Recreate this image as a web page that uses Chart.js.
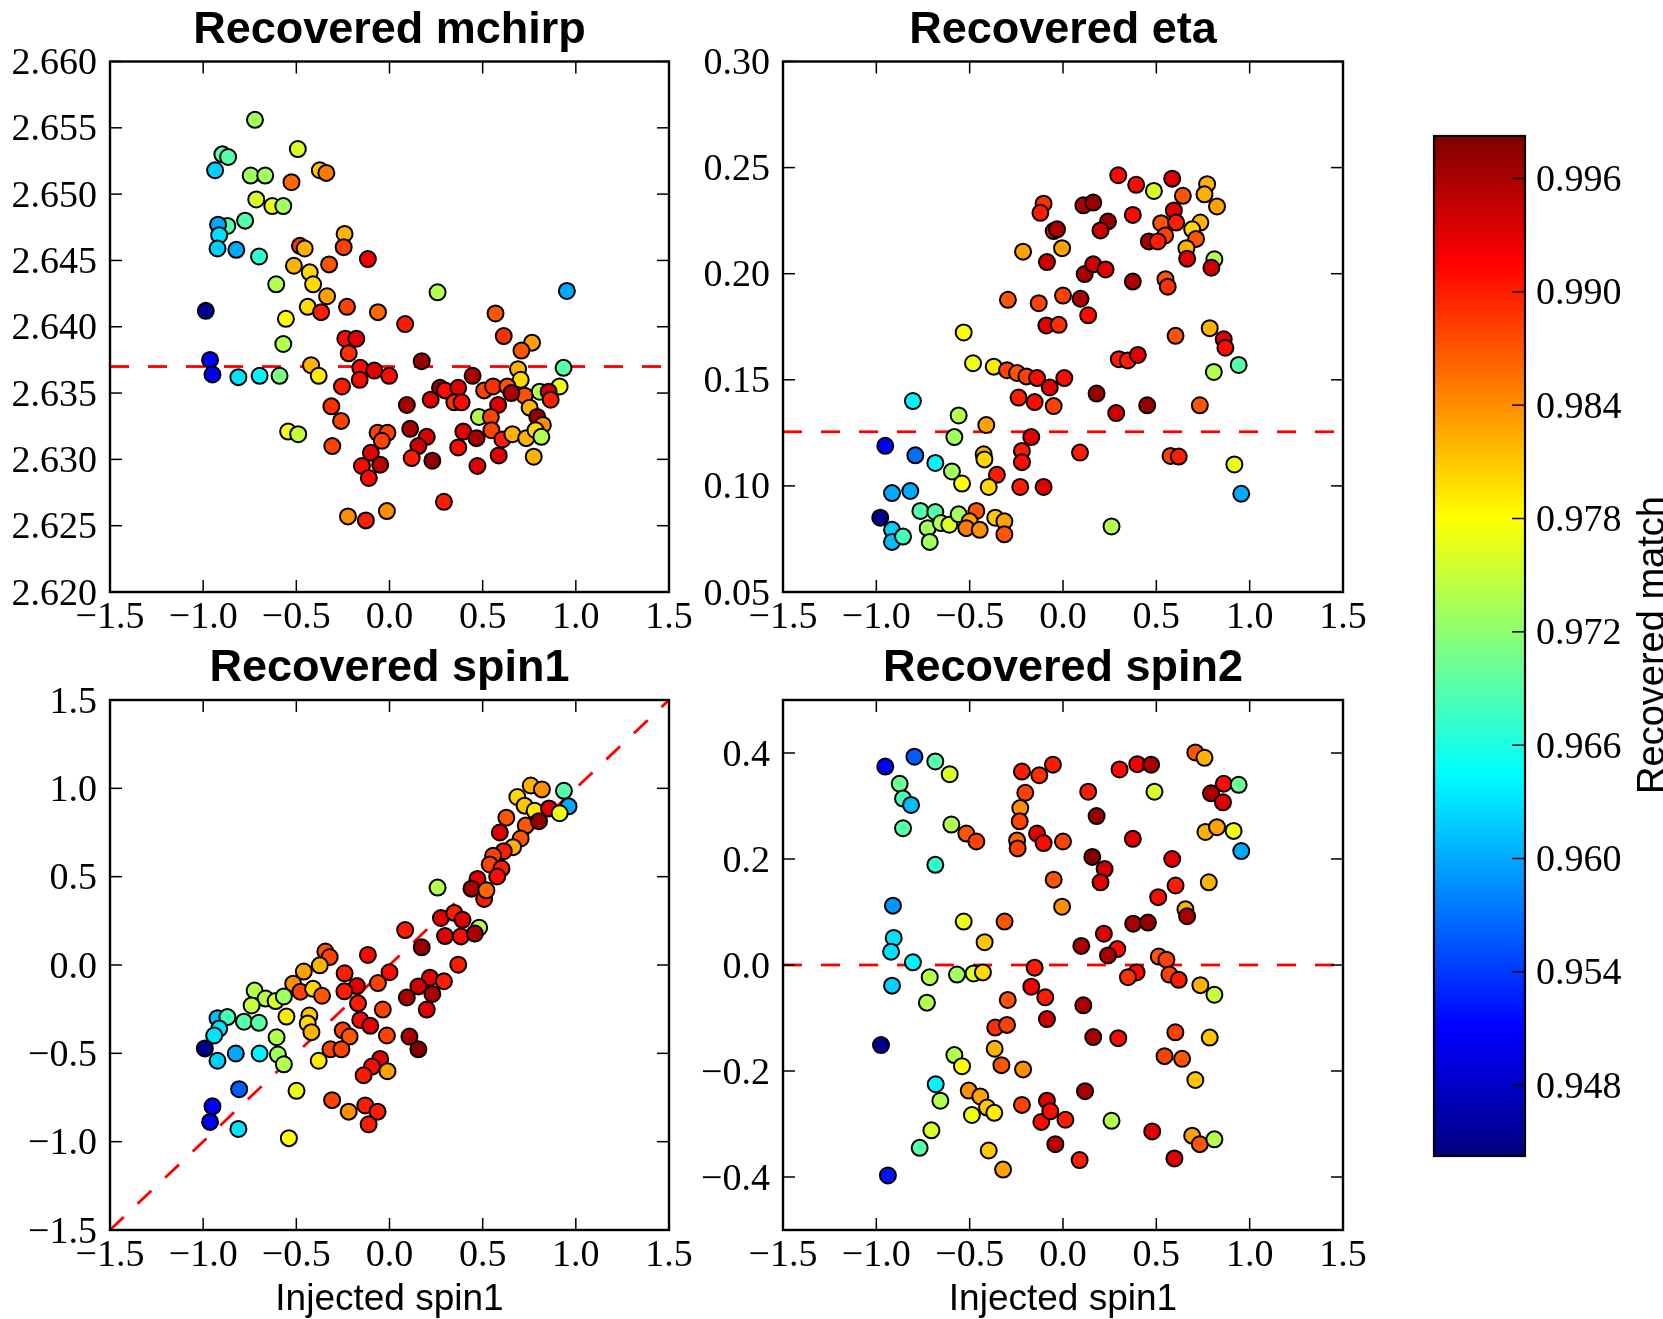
<!DOCTYPE html>
<html>
<head>
<meta charset="utf-8">
<script src="https://cdn.jsdelivr.net/npm/chart.js@4.4.0/dist/chart.umd.min.js"></script>
<style>
  html, body { margin: 0; padding: 0; background: #fff; }
  #wrap { position: relative; width: 1663px; height: 1319px; overflow: hidden; }
  #wrap canvas { position: absolute; left: 0; top: 0; }
</style>
</head>
<body>
<div id="wrap">
  <canvas id="cMchirp" width="1663" height="1319"></canvas>
  <canvas id="cEta" width="1663" height="1319"></canvas>
  <canvas id="cSpin1" width="1663" height="1319"></canvas>
  <canvas id="cSpin2" width="1663" height="1319"></canvas>
  <canvas id="cBar" width="1663" height="1319"></canvas>
</div>
<script>
// ---- data (x = injected spin1, value = recovered param, match = colour) ----
const mchirpSpin1 = [-0.722,-0.897,-0.866,-0.936,-0.492,-0.745,-0.667,-0.526,-0.374,-0.339,-0.715,-0.629,-0.570,-0.775,-0.870,-0.920,-0.914,-0.923,-0.822,-0.700,-0.481,-0.455,-0.241,-0.246,-0.116,-0.513,-0.428,-0.410,-0.324,-0.608,-0.335,-0.986,-0.556,-0.439,-0.367,-0.228,-0.062,-0.570,-0.237,-0.178,-0.219,-0.963,-0.950,-0.811,-0.697,-0.590,-0.421,-0.380,-0.157,-0.082,-0.002,-0.160,-0.255,-0.312,-0.260,-0.544,-0.490,-0.307,-0.064,-0.011,-0.041,-0.100,-0.050,-0.148,-0.111,-0.223,-0.127,-0.014,
  0.258,0.952,0.084,0.569,0.613,0.765,0.708,0.173,0.934,0.446,0.690,0.704,0.271,0.298,0.369,0.508,0.556,0.633,0.806,0.913,0.854,0.865,0.725,0.654,0.221,0.348,0.387,0.583,0.093,0.752,0.480,0.544,0.793,0.823,0.547,0.111,0.200,0.155,0.119,0.230,0.396,0.369,0.467,0.606,0.660,0.734,0.784,0.815,0.472,0.586,0.774,0.292];
const mchirpValue = [2.6556,2.6530,2.6528,2.6518,2.6534,2.6514,2.6514,2.6509,2.6518,2.6516,2.6496,2.6491,2.6491,2.6480,2.6476,2.6477,2.6469,2.6459,2.6458,2.6453,2.6461,2.6459,2.6470,2.6460,2.6451,2.6446,2.6441,2.6432,2.6447,2.6432,2.6423,2.6412,2.6406,2.6415,2.6411,2.6415,2.6411,2.6387,2.6391,2.6391,2.6380,2.6375,2.6364,2.6362,2.6363,2.6363,2.6371,2.6363,2.6369,2.6367,2.6363,2.6360,2.6355,2.6340,2.6329,2.6321,2.6319,2.6310,2.6320,2.6320,2.6314,2.6305,2.6296,2.6295,2.6286,2.6257,2.6254,2.6261,
  2.6426,2.6427,2.6402,2.6410,2.6393,2.6388,2.6382,2.6374,2.6369,2.6363,2.6368,2.6360,2.6354,2.6352,2.6354,2.6352,2.6355,2.6355,2.6351,2.6355,2.6351,2.6345,2.6348,2.6350,2.6345,2.6343,2.6343,2.6341,2.6341,2.6339,2.6332,2.6332,2.6332,2.6326,2.6322,2.6323,2.6317,2.6310,2.6301,2.6299,2.6321,2.6309,2.6316,2.6315,2.6319,2.6316,2.6322,2.6317,2.6295,2.6303,2.6302,2.6268];
const mchirpMatch = [0.973,0.969,0.969,0.962,0.976,0.973,0.973,0.986,0.981,0.985,0.976,0.977,0.973,0.969,0.969,0.960,0.963,0.962,0.960,0.967,0.989,0.982,0.982,0.988,0.992,0.982,0.980,0.980,0.987,0.974,0.983,0.945,0.978,0.980,0.990,0.988,0.986,0.974,0.991,0.993,0.989,0.951,0.951,0.963,0.964,0.971,0.982,0.979,0.991,0.993,0.991,0.991,0.990,0.989,0.988,0.977,0.975,0.988,0.988,0.988,0.988,0.993,0.995,0.991,0.991,0.984,0.990,0.984,
  0.974,0.960,0.990,0.987,0.989,0.983,0.987,0.997,0.969,0.996,0.982,0.980,0.997,0.991,0.993,0.988,0.989,0.987,0.974,0.977,0.994,0.990,0.987,0.996,0.993,0.989,0.991,0.993,0.996,0.982,0.974,0.988,0.997,0.984,0.988,0.996,0.993,0.994,0.990,0.997,0.993,0.991,0.996,0.990,0.982,0.982,0.980,0.974,0.993,0.993,0.982,0.990];

const etaSpin1 = [-0.104,-0.121,-0.050,-0.032,-0.214,-0.005,-0.086,-0.295,-0.130,0.000,-0.089,-0.023,-0.532,-0.482,-0.371,-0.300,-0.246,-0.196,-0.139,-0.071,0.007,-0.804,-0.238,-0.152,-0.050,-0.559,-0.411,-0.582,-0.170,-0.952,-0.791,-0.220,-0.220,-0.425,-0.421,-0.684,-0.595,-0.541,-0.354,-0.398,-0.229,-0.104,-0.916,-0.818,-0.979,-0.916,-0.916,-0.857,-0.764,-0.684,-0.725,-0.714,-0.654,-0.609,-0.559,-0.464,-0.500,-0.518,-0.446,-0.363,-0.314,-0.314,
  0.296,0.392,0.487,0.585,0.642,0.772,0.758,0.825,0.109,0.162,0.374,0.594,0.241,0.201,0.526,0.606,0.547,0.460,0.508,0.736,0.692,0.713,0.661,0.665,0.811,0.795,0.116,0.162,0.228,0.374,0.549,0.561,0.094,0.135,0.786,0.603,0.861,0.870,0.299,0.347,0.401,0.808,0.941,0.180,0.285,0.451,0.733,0.091,0.576,0.620,0.918,0.955,0.260];
const etaValue = [0.2330,0.2287,0.2201,0.2209,0.2104,0.2120,0.2055,0.1877,0.1861,0.1897,0.1756,0.1759,0.1723,0.1578,0.1562,0.1545,0.1532,0.1516,0.1508,0.1464,0.1508,0.1400,0.1416,0.1395,0.1376,0.1332,0.1287,0.1230,0.1230,0.1189,0.1144,0.1165,0.1112,0.1149,0.1125,0.1108,0.1068,0.1011,0.1052,0.0995,0.0995,0.0995,0.0966,0.0976,0.0850,0.0793,0.0736,0.0761,0.0882,0.0877,0.0801,0.0736,0.0825,0.0817,0.0866,0.0882,0.0833,0.0801,0.0793,0.0850,0.0833,0.0772,
  0.2464,0.2419,0.2390,0.2448,0.2367,0.2422,0.2374,0.2317,0.2322,0.2335,0.2277,0.2298,0.2246,0.2204,0.2238,0.2241,0.2180,0.2152,0.2152,0.2241,0.2209,0.2164,0.2120,0.2071,0.2068,0.2028,0.1998,0.2044,0.2020,0.1963,0.1974,0.1939,0.1882,0.1804,0.1743,0.1707,0.1691,0.1651,0.1597,0.1591,0.1617,0.1537,0.1570,0.1435,0.1343,0.1380,0.1380,0.1157,0.1141,0.1138,0.1101,0.0963,0.0809];
const etaMatch = [0.989,0.990,0.991,0.996,0.983,0.983,0.994,0.987,0.988,0.988,0.993,0.989,0.978,0.977,0.979,0.988,0.987,0.988,0.991,0.993,0.991,0.964,0.990,0.991,0.988,0.974,0.983,0.973,0.993,0.951,0.957,0.990,0.991,0.982,0.980,0.964,0.973,0.978,0.990,0.980,0.990,0.993,0.960,0.960,0.945,0.962,0.961,0.968,0.969,0.969,0.973,0.973,0.974,0.976,0.973,0.987,0.983,0.985,0.984,0.981,0.983,0.987,
  0.991,0.991,0.976,0.993,0.987,0.982,0.982,0.983,0.996,0.997,0.991,0.993,0.997,0.994,0.987,0.990,0.988,0.996,0.990,0.982,0.980,0.987,0.982,0.993,0.974,0.994,0.996,0.994,0.993,0.996,0.987,0.989,0.996,0.991,0.982,0.987,0.993,0.991,0.990,0.990,0.993,0.974,0.969,0.997,0.994,0.997,0.987,0.990,0.988,0.990,0.977,0.960,0.974];

const spin1Spin1 = [-0.344,-0.321,-0.116,-0.374,-0.460,-0.517,-0.241,0.000,-0.062,-0.175,-0.242,-0.478,-0.410,-0.362,-0.724,-0.665,-0.611,-0.567,-0.740,-0.169,-0.036,-0.923,-0.870,-0.781,-0.701,-0.553,-0.430,-0.439,-0.419,-0.157,-0.103,-0.914,-0.941,-0.991,-0.923,-0.825,-0.697,-0.606,-0.599,-0.567,-0.380,-0.251,-0.214,-0.317,-0.258,-0.014,-0.050,-0.094,-0.139,-0.011,-0.807,-0.499,-0.950,-0.963,-0.811,-0.540,-0.308,-0.219,-0.130,-0.064,-0.112,
  0.758,0.818,0.936,0.686,0.725,0.779,0.856,0.961,0.913,0.627,0.731,0.592,0.704,0.663,0.613,0.556,0.538,0.601,0.578,0.472,0.440,0.508,0.520,0.258,0.276,0.348,0.392,0.481,0.298,0.383,0.458,0.084,0.173,0.369,0.217,0.292,0.155,0.093,0.230,0.200,0.107,0.155,0.802];
const spin1Value = [0.076,0.045,0.057,-0.002,-0.037,-0.106,-0.047,-0.041,-0.102,-0.119,-0.149,-0.151,-0.135,-0.174,-0.145,-0.190,-0.204,-0.178,-0.229,-0.217,-0.252,-0.301,-0.295,-0.321,-0.327,-0.292,-0.286,-0.331,-0.380,-0.311,-0.344,-0.360,-0.399,-0.472,-0.542,-0.501,-0.501,-0.409,-0.507,-0.562,-0.542,-0.370,-0.405,-0.477,-0.477,-0.399,-0.532,-0.575,-0.624,-0.601,-0.703,-0.712,-0.800,-0.888,-0.928,-0.980,-0.765,-0.830,-0.795,-0.830,-0.902,
  1.016,0.994,0.986,0.951,0.902,0.873,0.886,0.898,0.859,0.834,0.789,0.750,0.716,0.667,0.644,0.618,0.569,0.546,0.501,0.487,0.432,0.374,0.423,0.438,0.266,0.295,0.256,0.211,0.164,0.162,0.178,0.198,0.100,0.002,-0.072,-0.092,-0.121,-0.184,-0.164,-0.252,-0.405,-0.477,0.814];
const spin1Match = [0.987,0.988,0.991,0.982,0.983,0.984,0.990,0.991,0.988,0.993,0.990,0.988,0.980,0.987,0.974,0.974,0.976,0.973,0.975,0.990,0.988,0.961,0.968,0.969,0.969,0.979,0.981,0.980,0.982,0.991,0.993,0.963,0.963,0.945,0.962,0.960,0.964,0.974,0.973,0.974,0.979,0.988,0.987,0.988,0.988,0.988,0.993,0.991,0.990,0.983,0.956,0.977,0.951,0.951,0.963,0.978,0.988,0.984,0.990,0.990,0.990,
  0.982,0.984,0.969,0.980,0.981,0.979,0.993,0.960,0.977,0.987,0.987,0.993,0.987,0.982,0.990,0.988,0.988,0.990,0.991,0.993,0.996,0.990,0.986,0.974,0.993,0.990,0.993,0.974,0.993,0.991,0.996,0.990,0.997,0.990,0.993,0.990,0.994,0.996,0.996,0.993,0.996,0.998,0.997];

const spin2Spin1 = [-0.952,-0.796,-0.684,-0.607,-0.875,-0.857,-0.814,-0.857,-0.598,-0.518,-0.464,-0.684,-0.220,-0.127,-0.054,-0.202,-0.229,-0.232,-0.246,-0.243,-0.139,-0.104,0.000,-0.050,-0.005,-0.911,-0.907,-0.921,-0.804,-0.916,-0.714,-0.729,-0.532,-0.420,-0.313,-0.568,-0.479,-0.429,-0.152,-0.170,-0.095,-0.086,-0.296,-0.363,-0.300,-0.975,-0.366,-0.330,-0.214,-0.582,-0.541,-0.682,-0.657,-0.505,-0.443,-0.488,-0.407,-0.368,-0.220,-0.086,-0.116,-0.068,0.013,-0.041,-0.705,-0.768,-0.398,-0.321,-0.938,
  0.303,0.398,0.472,0.709,0.758,0.135,0.490,0.861,0.941,0.793,0.857,0.180,0.374,0.763,0.825,0.914,0.955,0.157,0.223,0.201,0.585,0.603,0.781,0.510,0.656,0.665,0.376,0.455,0.219,0.098,0.291,0.241,0.513,0.554,0.394,0.348,0.570,0.620,0.736,0.811,0.109,0.162,0.296,0.602,0.786,0.544,0.638,0.709,0.118,0.260,0.478,0.089,0.597,0.692,0.733,0.811];
const spin2Value = [0.3745,0.393,0.384,0.360,0.342,0.314,0.302,0.258,0.265,0.248,0.233,0.189,0.365,0.358,0.378,0.325,0.296,0.271,0.235,0.220,0.248,0.230,0.233,0.161,0.110,0.112,0.051,0.025,0.005,-0.039,-0.023,-0.071,0.082,0.043,0.082,-0.018,-0.016,-0.014,-0.005,-0.041,-0.061,-0.102,-0.066,-0.118,-0.113,-0.151,-0.158,-0.189,-0.197,-0.170,-0.191,-0.225,-0.256,-0.237,-0.248,-0.283,-0.269,-0.279,-0.264,-0.256,-0.296,-0.276,-0.292,-0.338,-0.312,-0.345,-0.350,-0.386,-0.397,
  0.369,0.379,0.378,0.401,0.391,0.327,0.327,0.342,0.340,0.324,0.307,0.281,0.238,0.251,0.260,0.253,0.215,0.204,0.181,0.156,0.200,0.150,0.156,0.128,0.105,0.092,0.078,0.080,0.059,0.036,0.030,0.018,0.016,0.010,-0.014,-0.023,-0.018,-0.028,-0.038,-0.056,-0.076,-0.136,-0.138,-0.127,-0.137,-0.172,-0.177,-0.217,-0.238,-0.294,-0.314,-0.368,-0.365,-0.322,-0.338,-0.329];
const spin2Match = [0.951,0.956,0.969,0.976,0.970,0.968,0.961,0.969,0.974,0.987,0.988,0.967,0.990,0.989,0.990,0.988,0.984,0.988,0.986,0.988,0.993,0.991,0.988,0.987,0.984,0.959,0.963,0.963,0.964,0.962,0.974,0.974,0.977,0.981,0.987,0.973,0.976,0.980,0.990,0.992,0.990,0.994,0.987,0.989,0.988,0.945,0.982,0.987,0.984,0.974,0.978,0.964,0.974,0.984,0.983,0.977,0.981,0.979,0.988,0.993,0.991,0.991,0.990,0.995,0.976,0.969,0.981,0.983,0.952,
  0.991,0.992,0.996,0.987,0.982,0.990,0.976,0.991,0.970,0.996,0.993,0.997,0.993,0.982,0.983,0.977,0.960,0.998,0.994,0.993,0.993,0.990,0.982,0.991,0.982,0.996,0.996,0.997,0.993,0.996,0.991,0.996,0.987,0.988,0.991,0.989,0.988,0.990,0.982,0.975,0.996,0.996,0.991,0.988,0.981,0.988,0.987,0.981,0.996,0.974,0.993,0.990,0.993,0.983,0.987,0.974];

// injected values drawn as dashed reference lines
const mchirpInjected = 2.637;
const etaInjected = 0.1255;
const spin2Injected = 0.0;
const spin1Diagonal = [-1.5, 1.5];

// tick labels
const xTicks = [-1.5, -1.0, -0.5, 0.0, 0.5, 1.0, 1.5];
const mchirpTicks = [2.620, 2.625, 2.630, 2.635, 2.640, 2.645, 2.650, 2.655, 2.660];
const etaTicks = [0.05, 0.10, 0.15, 0.20, 0.25, 0.30];
const spin1Ticks = [-1.5, -1.0, -0.5, 0.0, 0.5, 1.0, 1.5];
const spin2Ticks = [-0.4, -0.2, 0.0, 0.2, 0.4];
const matchTicks = [0.948, 0.954, 0.960, 0.966, 0.972, 0.978, 0.984, 0.990, 0.996];
const matchMin = 0.94425, matchMax = 0.99825;

// ---- helpers ----
const W = 1663, H = 1319;
const YAXIS_W = 100, XAXIS_H = 50;
const SERIF = '38px "Liberation Serif", "DejaVu Serif", serif';
const SANS = '"Liberation Sans", Arial, sans-serif';

function jet(v) {
  const t = Math.min(1, Math.max(0, (v - matchMin) / (matchMax - matchMin)));
  const c = k => Math.round(255 * Math.min(1, Math.max(0, 1.5 - Math.abs(4 * t - k))));
  return 'rgb(' + c(3) + ',' + c(2) + ',' + c(1) + ')';
}
function fmt(v, dec) {
  const s = Math.abs(v).toFixed(dec);
  return (v < -1e-9 ? '\u2212' : '') + s;
}
function seg(ctx, x1, y1, x2, y2) {
  ctx.beginPath(); ctx.moveTo(x1, y1); ctx.lineTo(x2, y2); ctx.stroke();
}

// frame, inward ticks, tick labels and titles, in matplotlib classic style
const axesDecor = {
  id: 'axesDecor',
  afterDraw(chart, args, o) {
    const { ctx, chartArea: a, scales } = chart;
    const sx = scales.x, sy = scales.y;
    ctx.save();
    ctx.strokeStyle = '#000';
    ctx.lineWidth = 1.5;
    sx.ticks.forEach(t => {
      const px = sx.getPixelForValue(t.value);
      seg(ctx, px, a.bottom, px, a.bottom - 12);
      seg(ctx, px, a.top, px, a.top + 12);
    });
    sy.ticks.forEach(t => {
      const py = sy.getPixelForValue(t.value);
      seg(ctx, a.left, py, a.left + 12, py);
      seg(ctx, a.right, py, a.right - 12, py);
    });
    ctx.lineWidth = 2.4;
    ctx.strokeRect(a.left, a.top, a.right - a.left, a.bottom - a.top);

    ctx.fillStyle = '#000';
    ctx.font = SERIF;
    ctx.textBaseline = 'alphabetic';
    ctx.textAlign = 'center';
    sx.ticks.forEach(t => {
      ctx.fillText(fmt(t.value, 1), sx.getPixelForValue(t.value), a.bottom + 36);
    });
    ctx.textAlign = 'right';
    sy.ticks.forEach(t => {
      ctx.fillText(fmt(t.value, o.yDec), a.left - 13, sy.getPixelForValue(t.value) + 12.5);
    });

    ctx.font = 'bold 45px ' + SANS;
    ctx.textAlign = 'center';
    ctx.fillText(o.title, (a.left + a.right) / 2, a.top - 19);
    if (o.xLabel) {
      ctx.font = '37px ' + SANS;
      ctx.fillText(o.xLabel, (a.left + a.right) / 2, a.bottom + 80);
    }
    ctx.restore();
  }
};

function makePanel(id, area, xs, ys, ms, ref, yMin, yMax, yTicks, yDec, title, xLabel) {
  const pts = xs.map((x, i) => ({ x: x, y: ys[i] }));
  new Chart(document.getElementById(id), {
    type: 'scatter',
    data: {
      datasets: [
        {
          data: pts,
          backgroundColor: ms.map(jet),
          borderColor: '#000',
          borderWidth: 2,
          pointRadius: 8,
          order: 1
        },
        {
          data: ref,
          showLine: true,
          borderColor: '#ff0000',
          borderWidth: 2.8,
          borderDash: [19, 19],
          pointRadius: 0,
          order: 2
        }
      ]
    },
    options: {
      responsive: false,
      animation: false,
      devicePixelRatio: 1,
      events: [],
      layout: {
        padding: {
          left: area.left - YAXIS_W,
          right: W - area.right,
          top: area.top,
          bottom: H - area.bottom - XAXIS_H
        }
      },
      plugins: {
        legend: { display: false },
        tooltip: { enabled: false },
        axesDecor: { title: title, xLabel: xLabel, yDec: yDec }
      },
      scales: {
        x: {
          type: 'linear', min: -1.5, max: 1.5,
          afterBuildTicks: s => { s.ticks = xTicks.map(v => ({ value: v })); },
          afterFit: s => { s.height = XAXIS_H; },
          grid: { display: false }, border: { display: false }, ticks: { display: false }
        },
        y: {
          type: 'linear', min: yMin, max: yMax,
          afterBuildTicks: s => { s.ticks = yTicks.map(v => ({ value: v })); },
          afterFit: s => { s.width = YAXIS_W; },
          grid: { display: false }, border: { display: false }, ticks: { display: false }
        }
      }
    },
    plugins: [axesDecor]
  });
}

const leftBox = { left: 110, right: 669 };
const rightBox = { left: 783, right: 1343 };
const topRow = { top: 61.5, bottom: 592 };
const botRow = { top: 700, bottom: 1230 };

makePanel('cMchirp', Object.assign({}, leftBox, topRow), mchirpSpin1, mchirpValue, mchirpMatch,
  [{ x: -1.5, y: mchirpInjected }, { x: 1.5, y: mchirpInjected }],
  2.620, 2.660, mchirpTicks, 3, 'Recovered mchirp', null);
makePanel('cEta', Object.assign({}, rightBox, topRow), etaSpin1, etaValue, etaMatch,
  [{ x: -1.5, y: etaInjected }, { x: 1.5, y: etaInjected }],
  0.05, 0.30, etaTicks, 2, 'Recovered eta', null);
makePanel('cSpin1', Object.assign({}, leftBox, botRow), spin1Spin1, spin1Value, spin1Match,
  spin1Diagonal.map(v => ({ x: v, y: v })),
  -1.5, 1.5, spin1Ticks, 1, 'Recovered spin1', 'Injected spin1');
makePanel('cSpin2', Object.assign({}, rightBox, botRow), spin2Spin1, spin2Value, spin2Match,
  [{ x: -1.5, y: spin2Injected }, { x: 1.5, y: spin2Injected }],
  -0.5, 0.5, spin2Ticks, 1, 'Recovered spin2', 'Injected spin1');

// ---- colour bar ----
const barBox = { left: 1434, right: 1525, top: 136, bottom: 1156 };
const colorBar = {
  id: 'colorBar',
  afterDraw(chart) {
    const { ctx, chartArea: a, scales } = chart;
    const sy = scales.y;
    ctx.save();
    const g = ctx.createLinearGradient(0, sy.getPixelForValue(matchMin), 0, sy.getPixelForValue(matchMax));
    for (let i = 0; i <= 40; i++) {
      g.addColorStop(i / 40, jet(matchMin + (matchMax - matchMin) * i / 40));
    }
    ctx.fillStyle = g;
    ctx.fillRect(a.left, a.top, a.right - a.left, a.bottom - a.top);
    ctx.strokeStyle = '#000';
    ctx.lineWidth = 1.5;
    sy.ticks.forEach(t => {
      const py = sy.getPixelForValue(t.value);
      seg(ctx, a.right, py, a.right - 13, py);
    });
    ctx.lineWidth = 2.2;
    ctx.strokeRect(a.left, a.top, a.right - a.left, a.bottom - a.top);
    ctx.fillStyle = '#000';
    ctx.font = SERIF;
    ctx.textAlign = 'left';
    ctx.textBaseline = 'alphabetic';
    sy.ticks.forEach(t => {
      ctx.fillText(t.value.toFixed(3), a.right + 11, sy.getPixelForValue(t.value) + 12.5);
    });
    ctx.translate(1664, 645);
    ctx.rotate(-Math.PI / 2);
    ctx.font = '38px ' + SANS;
    ctx.textAlign = 'center';
    ctx.fillText('Recovered match', 0, 0);
    ctx.restore();
  }
};

new Chart(document.getElementById('cBar'), {
  type: 'scatter',
  data: { datasets: [] },
  options: {
    responsive: false,
    animation: false,
    devicePixelRatio: 1,
    events: [],
    layout: {
      padding: { left: barBox.left, right: W - barBox.right - YAXIS_W, top: barBox.top, bottom: H - barBox.bottom }
    },
    plugins: { legend: { display: false }, tooltip: { enabled: false } },
    scales: {
      x: { display: false, min: 0, max: 1 },
      y: {
        type: 'linear', position: 'right', min: matchMin, max: matchMax,
        afterBuildTicks: s => { s.ticks = matchTicks.map(v => ({ value: v })); },
        afterFit: s => { s.width = YAXIS_W; },
        grid: { display: false }, border: { display: false }, ticks: { display: false }
      }
    }
  },
  plugins: [colorBar]
});
</script>
</body>
</html>
